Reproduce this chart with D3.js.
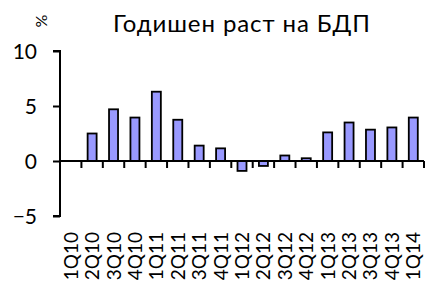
<!DOCTYPE html>
<html><head><meta charset="utf-8">
<script src="https://cdn.jsdelivr.net/npm/d3@7"></script>
<style>body{margin:0;background:#fff}svg{display:block}text{font-family:Lato,"Open Sans",sans-serif;fill:#000}</style>
</head><body><svg id="c" width="426" height="286"></svg>
<script>
const categories = ["1Q10","2Q10","3Q10","4Q10","1Q11","2Q11","3Q11","4Q11","1Q12","2Q12","3Q12","4Q12","1Q13","2Q13","3Q13","4Q13","1Q14"];
const values = [0, 2.5, 4.7, 3.95, 6.3, 3.75, 1.4, 1.15, -0.9, -0.45, 0.5, 0.25, 2.6, 3.5, 2.85, 3.05, 3.95];
const yTicks = [-5, 0, 5, 10];
const title = "Годишен раст на БДП";
const unit = "%";

const svg = d3.select("#c");
const x = d3.scaleBand().domain(categories).range([60, 424]).paddingInner(0).paddingOuter(0);
const y = d3.scaleLinear().domain([-5, 10]).range([216, 51]);

// bars
svg.append("g").selectAll("rect").data(values).enter().append("rect")
  .attr("x", (d,i)=> x(categories[i]) + x.bandwidth()/2 - 4.5)
  .attr("width", 9)
  .attr("y", d => y(Math.max(0,d)))
  .attr("height", d => Math.abs(y(d)-y(0)))
  .attr("fill", "#9999ff").attr("stroke", "#000").attr("stroke-width", 1.8);

// y axis
const ya = svg.append("g").attr("transform","translate(60,0)")
  .call(d3.axisLeft(y).tickValues(yTicks).tickSize(7).tickPadding(16).tickFormat(d3.format("d")));
ya.attr("font-size",null).attr("font-family",null);
ya.select(".domain").attr("stroke","#000").attr("stroke-width",2).attr("d",`M-7,${y(10)}H0V${y(-5)}H-7`);
ya.selectAll(".tick line").attr("stroke","#000").attr("stroke-width",2);
ya.selectAll(".tick text").attr("font-size",21).attr("dy","0.35em");

// x axis at zero
const xa = svg.append("g").attr("transform",`translate(0,${y(0)})`);
xa.append("line").attr("x1",60).attr("x2",424).attr("stroke","#000").attr("stroke-width",2);
const bounds = categories.map(c => x(c) + x.bandwidth());
xa.selectAll("line.t").data(bounds).enter().append("line").attr("class","t")
  .attr("x1", d=>d).attr("x2", d=>d).attr("y1",0).attr("y2",7)
  .attr("stroke","#000").attr("stroke-width",2);

// x labels rotated
svg.append("g").selectAll("text").data(categories).enter().append("text")
  .attr("transform", d => `translate(${x(d)+x.bandwidth()/2+7},232) rotate(-90)`)
  .attr("text-anchor","end")
  .attr("font-size",19).text(d=>d);

// title & unit
svg.append("text").attr("x",113).attr("y",32).attr("font-size",24)
  .attr("textLength",257).attr("lengthAdjust","spacing").text(title);
svg.append("text").attr("transform","translate(47,21) rotate(-90)").attr("text-anchor","middle").attr("font-size",16).text(unit);
</script></body></html>
